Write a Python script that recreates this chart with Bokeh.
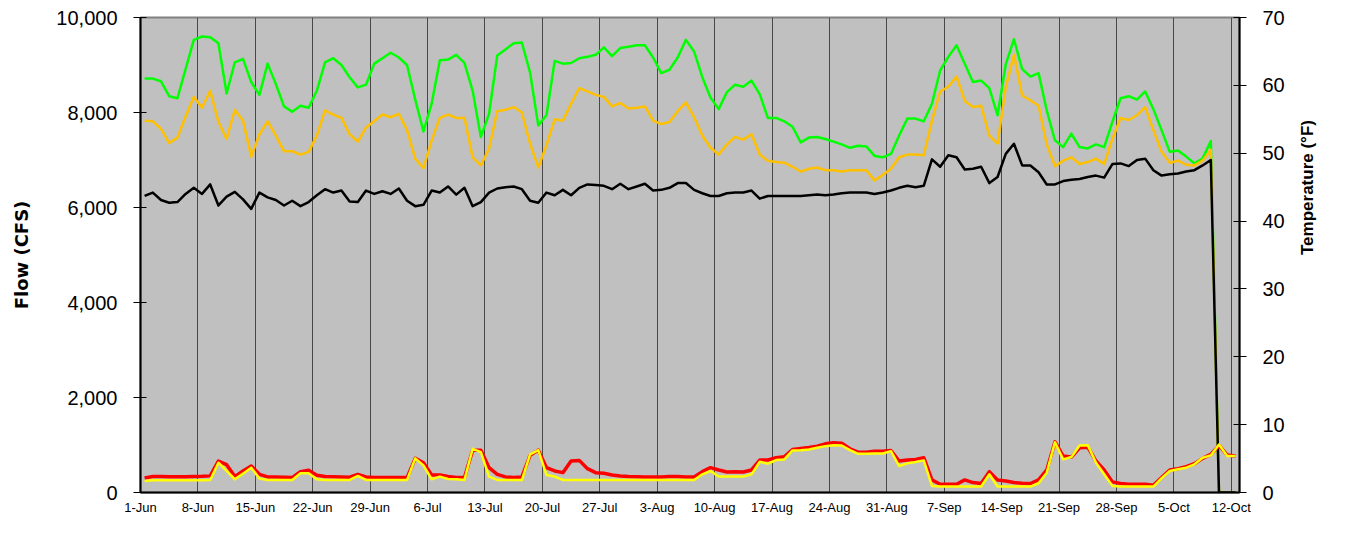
import numpy as np
import pandas as pd
from bokeh.plotting import figure
from bokeh.models import Range1d, LinearAxis, FixedTicker, NumeralTickFormatter
from bokeh.embed import file_html
from bokeh.resources import INLINE

start_date = "2009-06-01"
tick_labels = ["1-Jun", "8-Jun", "15-Jun", "22-Jun", "29-Jun", "6-Jul", "13-Jul",
               "20-Jul", "27-Jul", "3-Aug", "10-Aug", "17-Aug", "24-Aug", "31-Aug",
               "7-Sep", "14-Sep", "21-Sep", "28-Sep", "5-Oct", "12-Oct"]
flow_ticks = [0, 2000, 4000, 6000, 8000, 10000]
temp_ticks = [0, 10, 20, 30, 40, 50, 60, 70]

# Temperatures (deg F), right axis
temp_green = [
    61.0, 61.0, 60.6, 58.4, 58.1, 62.4, 66.7, 67.2, 67.1, 66.2, 58.8, 63.4, 63.9, 60.5, 58.6, 63.2,
    60.2, 56.9, 56.1, 57.0, 56.7, 59.2, 63.4, 64.0, 63.0, 61.2, 59.7, 60.1, 63.2, 64.0, 64.8, 64.1,
    63.0, 57.9, 53.2, 57.3, 63.7, 63.8,
    64.5, 63.3, 59.2, 52.4, 55.8, 64.4, 65.3, 66.2, 66.3, 61.9, 54.1, 55.6, 63.6, 63.2, 63.3, 64.0,
    64.2, 64.5, 65.6, 64.3, 65.5, 65.7, 65.9, 65.9, 64.1, 61.8, 62.3, 64.1, 66.7, 65.0, 61.2, 58.2,
    56.5, 59.0, 60.1, 59.8, 60.7, 58.7, 55.2, 55.2, 54.7, 53.9, 51.6, 52.3, 52.4, 52.1, 51.7, 51.3,
    50.8, 51.1, 51.0, 49.6, 49.4,
    49.9, 52.6, 55.1, 55.1, 54.7, 57.3, 62.2, 64.2, 65.9, 63.2, 60.5, 60.7, 59.6, 55.6, 63.1, 66.8,
    62.4, 61.3, 61.8, 56.3, 51.9, 50.9, 52.9, 50.9, 50.7, 51.3, 50.9, 54.6, 58.1, 58.4, 57.9, 59.1,
    56.5, 53.4, 50.2, 50.4, 49.5, 48.5, 49.2, 51.8, 0.0, 0.0, 0.0]
temp_orange = [
    54.8, 54.7, 53.6, 51.5, 52.3, 55.4, 58.3, 56.7, 59.2, 54.6, 52.1, 56.4, 54.8, 49.5, 52.8, 54.7,
    52.6, 50.3, 50.3, 49.8, 50.2, 52.6, 56.3, 55.7, 55.2, 52.8, 51.7, 53.8, 54.7, 55.7, 55.3, 55.8,
    53.4, 49.2, 47.8, 51.9, 55.2, 55.7,
    55.2, 55.2, 49.4, 48.2, 50.7, 56.2, 56.4, 56.8, 56.0, 51.4, 47.9, 51.2, 55.0, 54.8, 57.3, 59.6,
    59.1, 58.6, 58.3, 56.9, 57.4, 56.6, 56.7, 56.9, 54.8, 54.3, 54.6, 56.2, 57.5, 55.3, 52.6, 50.8,
    49.8, 51.3, 52.4, 52.0, 52.8, 49.8, 48.9, 48.7, 48.6, 48.0, 47.3, 47.7, 47.9, 47.5, 47.5, 47.3,
    47.5, 47.5, 47.5, 46.0, 46.8,
    47.7, 49.4, 49.8, 49.8, 49.7, 54.8, 59.1, 59.8, 61.3, 57.7, 56.8, 57.0, 52.6, 51.4, 59.7, 64.5,
    58.5, 57.8, 57.0, 51.3, 48.1, 48.9, 49.4, 48.4, 48.7, 49.2, 48.4, 52.1, 55.2, 54.9, 55.6, 56.8,
    53.4, 50.2, 48.6, 48.9, 48.3, 48.2, 48.9, 50.5, 0.0, 0.0, 0.0]
temp_black = [
    43.7, 44.2, 43.1, 42.7, 42.8, 44.0, 44.9, 44.0, 45.4, 42.3, 43.6, 44.3, 43.2, 41.8, 44.2, 43.5,
    43.1, 42.3, 43.0, 42.2, 42.8, 43.8, 44.7, 44.2, 44.5, 42.9, 42.8, 44.5, 44.0, 44.4, 44.0, 44.8,
    43.0, 42.2, 42.4, 44.5, 44.2, 45.1,
    43.9, 44.9, 42.2, 42.8, 44.2, 44.8, 45.0, 45.1, 44.7, 43.0, 42.7, 44.2, 43.8, 44.6, 43.8, 44.9,
    45.4, 45.3, 45.2, 44.7, 45.5, 44.7, 45.1, 45.5, 44.5, 44.6, 44.9, 45.6, 45.6, 44.6, 44.1, 43.7,
    43.7, 44.1, 44.2, 44.2, 44.5, 43.3, 43.7, 43.7, 43.7, 43.7, 43.7, 43.8, 43.9, 43.8, 43.9, 44.1,
    44.2, 44.2, 44.2, 44.0, 44.2,
    44.5, 44.9, 45.2, 45.0, 45.2, 49.1, 48.0, 49.7, 49.4, 47.6, 47.7, 48.0, 45.6, 46.5, 49.9, 51.4,
    48.2, 48.2, 47.2, 45.4, 45.4, 45.9, 46.1, 46.2, 46.5, 46.7, 46.4, 48.4, 48.5, 48.1, 49.0, 49.2,
    47.5, 46.7, 46.9, 47.0, 47.3, 47.5, 48.2, 49.0, 0.0, 0.0, 0.0]

# Flows (CFS), left axis
flow_red = [
    307, 335, 335, 332, 332, 332, 335, 340, 350, 662, 585, 335, 453, 558, 383, 328,
    325, 322, 314, 439, 467, 362, 335, 330, 328, 322, 383, 328, 318, 314, 314, 314,
    314, 718, 627, 369, 369, 335,
    314, 314, 892, 892, 523, 383, 328, 314, 328, 781, 892, 523, 453, 418, 662, 676,
    502, 418, 404, 369, 349, 335, 330, 328, 328, 328, 335, 335, 328, 328, 439, 523,
    474, 432, 439, 432, 474, 683, 683, 732, 753, 906, 927, 948, 976, 1025, 1046, 1039,
    920, 850, 850, 871, 871,
    885, 662, 683, 697, 732, 265, 174, 174, 174, 265, 209, 188, 439, 265, 244, 209,
    195, 188, 265, 474, 1066, 767, 746, 941, 955, 662, 474, 223, 188, 174, 174, 174,
    153, 314, 474, 502, 544, 606, 718, 802, 990, 788, 767]
flow_yellow = [
    244, 258, 258, 258, 258, 258, 258, 258, 262, 627, 453, 279, 397, 523, 293, 265,
    265, 265, 265, 404, 404, 279, 265, 265, 265, 265, 349, 265, 265, 265, 265, 265,
    265, 718, 572, 279, 335, 285,
    279, 265, 920, 850, 335, 265, 262, 262, 262, 802, 892, 369, 335, 265, 262, 262,
    262, 262, 262, 262, 262, 262, 262, 262, 262, 262, 262, 262, 262, 262, 383, 453,
    335, 335, 335, 335, 383, 648, 606, 683, 697, 885, 892, 906, 941, 976, 997, 990,
    892, 815, 815, 822, 822,
    871, 558, 613, 641, 676, 139, 125, 125, 125, 125, 125, 125, 383, 125, 125, 125,
    125, 125, 195, 418, 1059, 697, 746, 990, 997, 627, 383, 139, 125, 125, 125, 125,
    125, 300, 453, 488, 523, 593, 732, 781, 1011, 767, 767]

dates = pd.date_range(start_date, periods=len(flow_red), freq="D")
x = ((dates - dates[0]).days + 0.5).to_numpy(dtype=float)
year = dates[0].year
tick_pos = [int((pd.to_datetime(f"{t}-{year}", format="%d-%b-%Y") - dates[0]).days) for t in tick_labels]

p = figure(width=1329, height=517, output_backend="svg", toolbar_location=None,
           x_range=Range1d(0, len(dates)), y_range=Range1d(flow_ticks[0], flow_ticks[-1]),
           min_border_left=140, min_border_right=87, min_border_top=17, min_border_bottom=24)
p.extra_y_ranges = {"temp": Range1d(temp_ticks[0], temp_ticks[-1])}

p.background_fill_color = "#C0C0C0"
p.border_fill_color = "white"
p.outline_line_color = "#808080"
p.outline_line_width = 2

p.ygrid.visible = False
p.xgrid.ticker = FixedTicker(ticks=tick_pos)
p.xgrid.grid_line_color = "#484848"
p.xgrid.grid_line_width = 1

# bottom axis
xa = p.xaxis[0]
xa.ticker = FixedTicker(ticks=tick_pos)
xa.major_label_overrides = {tp: lab for tp, lab in zip(tick_pos, tick_labels)}
xa.major_tick_in = 0
xa.major_tick_out = 0
xa.minor_tick_line_color = None
xa.axis_line_color = "black"
xa.axis_line_width = 2
xa.major_label_text_font = "Liberation Sans"
xa.major_label_text_font_size = "13px"
xa.major_label_text_color = "black"
xa.major_label_standoff = 7

# left axis
ya = p.yaxis[0]
ya.ticker = FixedTicker(ticks=flow_ticks)
ya.formatter = NumeralTickFormatter(format="0,0")
ya.major_tick_in = 6
ya.major_tick_out = 7
ya.major_tick_line_color = "black"
ya.minor_tick_line_color = None
ya.axis_line_color = "black"
ya.axis_line_width = 2
ya.major_label_text_font = "Liberation Sans"
ya.major_label_text_font_size = "20px"
ya.major_label_text_color = "black"
ya.major_label_standoff = 16
ya.axis_label = "Flow (CFS)"
ya.axis_label_text_font = "DejaVu Sans"
ya.axis_label_text_font_style = "bold"
ya.axis_label_text_font_size = "18px"
ya.axis_label_text_color = "black"
ya.axis_label_standoff = 21

# right axis
ra = LinearAxis(y_range_name="temp", ticker=FixedTicker(ticks=temp_ticks))
ra.major_tick_in = 6
ra.major_tick_out = 7
ra.major_tick_line_color = "black"
ra.minor_tick_line_color = None
ra.axis_line_color = "black"
ra.axis_line_width = 2
ra.major_label_text_font = "Liberation Sans"
ra.major_label_text_font_size = "20px"
ra.major_label_text_color = "black"
ra.major_label_standoff = 16
ra.axis_label = "Temperature (°F)"
ra.axis_label_text_font = "Liberation Sans"
ra.axis_label_text_font_style = "bold"
ra.axis_label_text_font_size = "17px"
ra.axis_label_text_color = "black"
ra.axis_label_standoff = 20
ra.axis_label_orientation = np.pi / 2
p.add_layout(ra, "right")

p.line(x, temp_green, y_range_name="temp", line_color="#00FF00", line_width=2.5, line_join="round")
p.line(x, temp_orange, y_range_name="temp", line_color="#FFC000", line_width=2.5, line_join="round")
p.line(x, temp_black, y_range_name="temp", line_color="#000000", line_width=2.5, line_join="round")
p.line(x, flow_red, line_color="#FF0000", line_width=3.5, line_join="round")
p.line(x, flow_yellow, line_color="#FFFF00", line_width=2.5, line_join="round")

open("out.html", "w").write(file_html(p, INLINE))
